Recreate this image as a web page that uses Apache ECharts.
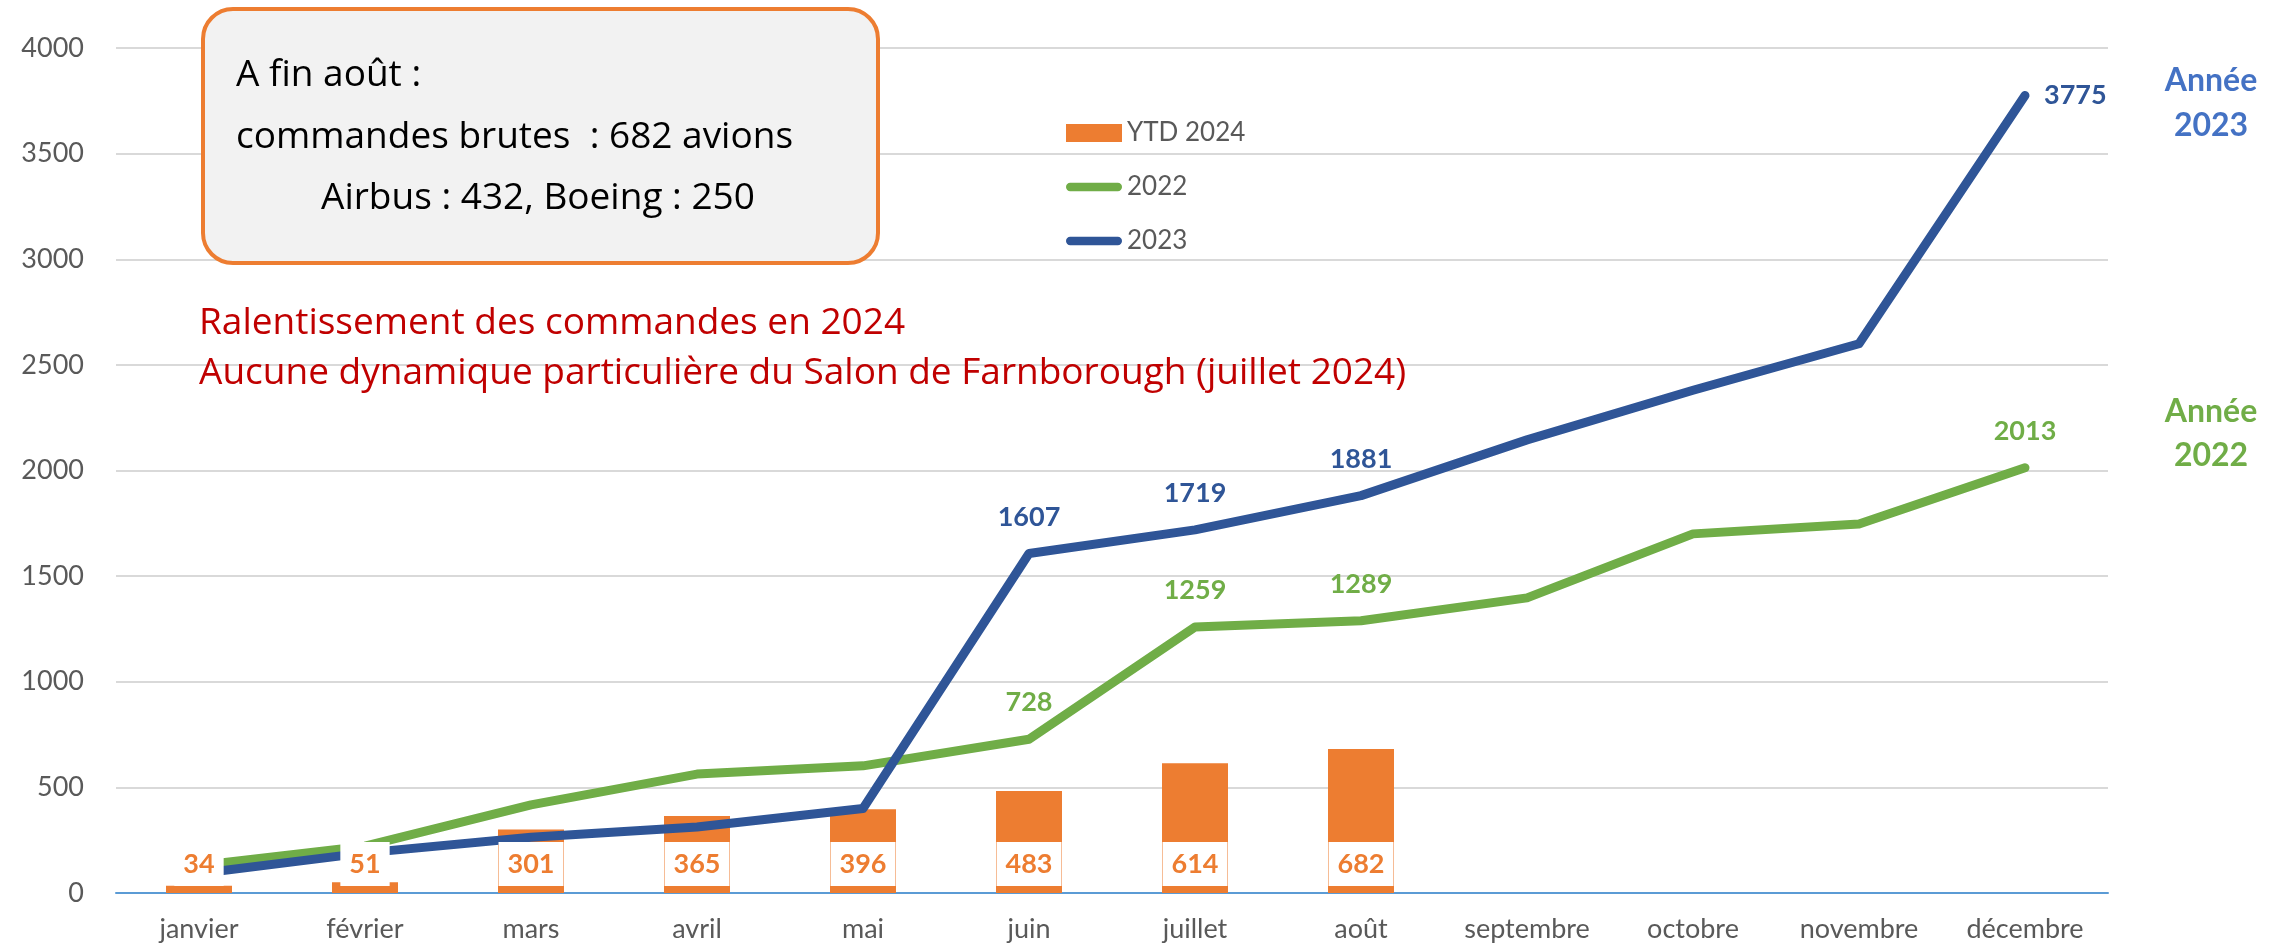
<!DOCTYPE html>
<html>
<head>
<meta charset="utf-8">
<script src="https://cdn.jsdelivr.net/npm/echarts@6/dist/echarts.min.js"></script>
<style>
  html, body { margin: 0; padding: 0; background: #fff; }
  #chart { width: 2279px; height: 946px; }
</style>
</head>
<body>
<div id="chart"></div>
<script>
// données
const months = ['janvier', 'février', 'mars', 'avril', 'mai', 'juin', 'juillet', 'août', 'septembre', 'octobre', 'novembre', 'décembre']
const ytd2024 = [34, 51, 301, 365, 396, 483, 614, 682]
const cumul2022 = [130, 222, 417, 563, 602, 728, 1259, 1289, 1397, 1700, 1747, 2013]
const cumul2023 = [92, 190, 264, 312, 400, 1607, 1719, 1881, 2145, 2380, 2600, 3775]
const labelledMonths = [5, 6, 7, 11] // points avec étiquette
const yMin = 0
const yMax = 4000
const yStep = 500

const FONT = 'Lato'
const NOTE_FONT = 'Open Sans'
const ORANGE = '#ED7D31'
const GREEN = '#70AD47'
const BLUE = '#2F5597'
const GREY = '#595959'

function withLabels(values, color, lastPos) {
  return values.map((v, i) => {
    const show = labelledMonths.indexOf(i) >= 0
    return {
      value: v,
      label: {
        show: show,
        position: (i === 11 && lastPos) ? lastPos : 'top',
        distance: (i === 11 && lastPos) ? 18 : 22,
        color: color,
        fontFamily: FONT,
        fontWeight: 'bold',
        fontSize: 27
      }
    }
  })
}

const lineIcon = 'path://M4.5,0 H55.5 A4.5,4.5 0 0 1 55.5,9 H4.5 A4.5,4.5 0 0 1 4.5,0 Z'

const chart = echarts.init(document.getElementById('chart'))
chart.setOption({
  backgroundColor: '#fff',
  animation: false,
  grid: { left: 116, right: 171, top: 48, bottom: 53 },
  legend: {
    orient: 'vertical',
    left: 1061,
    top: 115,
    itemWidth: 56,
    itemHeight: 18,
    itemGap: 28,
    textStyle: { color: GREY, fontFamily: FONT, fontSize: 26, lineHeight: 26 },
    data: [
      { name: 'YTD 2024', icon: 'rect' },
      { name: '2022', icon: lineIcon },
      { name: '2023', icon: lineIcon }
    ]
  },
  xAxis: {
    type: 'category',
    data: months,
    axisTick: { show: false },
    axisLine: { lineStyle: { color: '#5B9BD5', width: 2 } },
    axisLabel: { color: GREY, fontFamily: FONT, fontSize: 27, margin: 23 }
  },
  yAxis: {
    type: 'value',
    min: yMin,
    max: yMax,
    interval: yStep,
    axisLine: { show: false },
    axisTick: { show: false },
    splitLine: { lineStyle: { color: '#D9D9D9', width: 2 } },
    axisLabel: {
      color: GREY, fontFamily: FONT, fontSize: 27, margin: 32,
      formatter: (v) => String(v)
    }
  },
  series: [
    {
      name: 'YTD 2024',
      type: 'bar',
      data: ytd2024,
      barWidth: 66,
      barGap: '-100%',
      z: 1,
      itemStyle: { color: ORANGE }
    },
    {
      name: '2022',
      type: 'line',
      data: withLabels(cumul2022, GREEN),
      symbol: 'circle',
      symbolSize: 2,
      z: 3,
      itemStyle: { color: GREEN },
      lineStyle: { color: GREEN, width: 9, cap: 'round', join: 'round' }
    },
    {
      name: '2023',
      type: 'line',
      data: withLabels(cumul2023, BLUE, 'right'),
      symbol: 'circle',
      symbolSize: 2,
      z: 3,
      itemStyle: { color: BLUE },
      lineStyle: { color: BLUE, width: 9, cap: 'round', join: 'round' }
    },
    {
      // étiquettes des barres, au-dessus des courbes
      name: 'YTD 2024 labels',
      type: 'bar',
      data: ytd2024,
      barWidth: 66,
      barGap: '-100%',
      z: 10,
      silent: true,
      itemStyle: { color: 'rgba(0,0,0,0)' },
      label: {
        show: true,
        position: 'insideBottom',
        distance: 7,
        backgroundColor: '#fff',
        padding: [9, 9],
        color: ORANGE,
        fontFamily: FONT,
        fontWeight: 'bold',
        fontSize: 27,
        lineHeight: 26
      }
    }
  ],
  graphic: [
    {
      type: 'rect',
      shape: { x: 203, y: 9, width: 675, height: 254, r: 30 },
      style: { fill: '#F2F2F2', stroke: ORANGE, lineWidth: 4 },
      z: 20
    },
    { type: 'text', x: 236, y: 75, z: 21, style: { text: 'A fin août :', fontFamily: NOTE_FONT, fontSize: 37, fill: '#000', verticalAlign: 'middle' } },
    { type: 'text', x: 236, y: 137, z: 21, style: { text: 'commandes brutes  : 682 avions', fontFamily: NOTE_FONT, fontSize: 37, fill: '#000', verticalAlign: 'middle' } },
    { type: 'text', x: 321, y: 198, z: 21, style: { text: 'Airbus : 432, Boeing : 250', fontFamily: NOTE_FONT, fontSize: 37, fill: '#000', verticalAlign: 'middle' } },
    { type: 'text', x: 199, y: 323, z: 21, style: { text: 'Ralentissement des commandes en 2024', fontFamily: NOTE_FONT, fontSize: 37, fill: '#C00000', verticalAlign: 'middle' } },
    { type: 'text', x: 199, y: 373, z: 21, style: { text: 'Aucune dynamique particulière du Salon de Farnborough (juillet 2024)', fontFamily: NOTE_FONT, fontSize: 37, fill: '#C00000', verticalAlign: 'middle' } },
    { type: 'text', x: 2211, y: 81, z: 21, style: { text: 'Année', fontFamily: FONT, fontSize: 32, fontWeight: 'bold', fill: '#4472C4', align: 'center', verticalAlign: 'middle' } },
    { type: 'text', x: 2211, y: 126, z: 21, style: { text: '2023', fontFamily: FONT, fontSize: 32, fontWeight: 'bold', fill: '#4472C4', align: 'center', verticalAlign: 'middle' } },
    { type: 'text', x: 2211, y: 412, z: 21, style: { text: 'Année', fontFamily: FONT, fontSize: 32, fontWeight: 'bold', fill: GREEN, align: 'center', verticalAlign: 'middle' } },
    { type: 'text', x: 2211, y: 456, z: 21, style: { text: '2022', fontFamily: FONT, fontSize: 32, fontWeight: 'bold', fill: GREEN, align: 'center', verticalAlign: 'middle' } }
  ]
})
</script>
</body>
</html>
